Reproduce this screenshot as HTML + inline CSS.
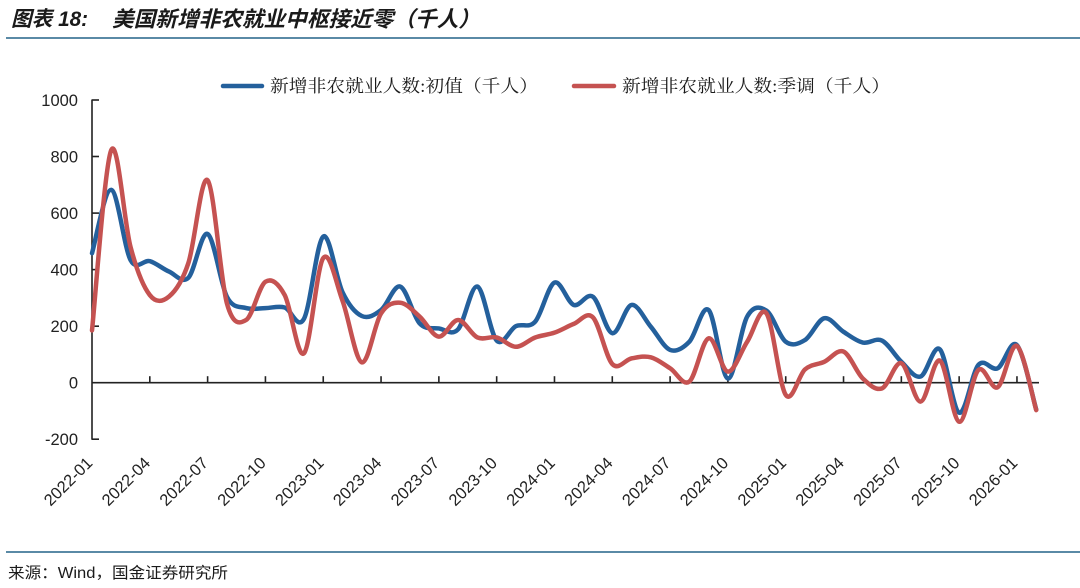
<!DOCTYPE html>
<html>
<head>
<meta charset="utf-8">
<style>
  html,body{margin:0;padding:0;background:#fff;}
  svg{display:block;}
  .cjk{font-family:"Liberation Sans","Noto Sans CJK SC",sans-serif;}
  .serif{font-family:"Liberation Serif","Noto Serif CJK SC",serif;}
  .num{font-family:"Liberation Sans","Noto Sans CJK SC",sans-serif;fill:#222;}
</style>
</head>
<body>
<svg id="chart" width="1080" height="588" viewBox="0 0 1080 588" xmlns="http://www.w3.org/2000/svg">
  <rect width="1080" height="588" fill="#fff"/>
  <!-- Title -->
  <text x="11" y="26" class="cjk" font-size="21" font-weight="bold" font-style="italic" fill="#1a1a1a" textLength="77" lengthAdjust="spacingAndGlyphs">图表 18:</text>
  <text x="112" y="26.5" class="cjk" font-size="21.5" font-weight="bold" font-style="italic" fill="#1a1a1a" textLength="368" lengthAdjust="spacingAndGlyphs">美国新增非农就业中枢接近零（千人）</text>
  <rect x="6" y="37" width="1074" height="2" fill="#5a8aa6"/>

  <!-- Legend -->
  <line x1="223" y1="86" x2="262" y2="86" stroke="#24609c" stroke-width="4.5" stroke-linecap="round"/>
  <text x="270" y="92" class="serif" font-size="17.5" fill="#1a1a1a" textLength="268" lengthAdjust="spacingAndGlyphs">新增非农就业人数:初值（千人）</text>
  <line x1="574" y1="86" x2="614" y2="86" stroke="#c55251" stroke-width="4.5" stroke-linecap="round"/>
  <text x="622" y="92" class="serif" font-size="17.5" fill="#1a1a1a" textLength="268" lengthAdjust="spacingAndGlyphs">新增非农就业人数:季调（千人）</text>

  <!-- Y axis -->
  <g stroke="#222" stroke-width="1.6" fill="none">
    <line x1="92" y1="99.5" x2="92" y2="439.8"/>
    <line x1="92" y1="100" x2="99" y2="100"/>
    <line x1="92" y1="156.5" x2="99" y2="156.5"/>
    <line x1="92" y1="213.1" x2="99" y2="213.1"/>
    <line x1="92" y1="269.6" x2="99" y2="269.6"/>
    <line x1="92" y1="326.2" x2="99" y2="326.2"/>
    <line x1="92" y1="439.2" x2="99" y2="439.2"/>
    <line x1="92" y1="382.7" x2="1039" y2="382.7"/>
  </g>
  <g class="num" font-size="16.5" text-anchor="end">
    <text x="78" y="106">1000</text>
    <text x="78" y="162.5">800</text>
    <text x="78" y="219">600</text>
    <text x="78" y="275.6">400</text>
    <text x="78" y="332.2">200</text>
    <text x="78" y="388.7">0</text>
    <text x="78" y="445.2">-200</text>
  </g>
  <g id="xticks" stroke="#222" stroke-width="1.6"></g>
  <g id="xlabels" class="num" font-size="16.5" text-anchor="end"></g>

  <!-- Series -->
  <g id="series" fill="none" stroke-width="4.5" stroke-linejoin="round" stroke-linecap="round"></g>

  <!-- Fallback polylines (removed by script) -->
  <g id="fb" transform="translate(92,382.7) scale(19.27,-0.2827)" fill="none">
    <polyline vector-effect="non-scaling-stroke" stroke="#24609c" stroke-width="4.5" points="0,458 1,682 2,434 3,430 4,393 5,371 6,526 7,304 8,264 9,264 10,266 11,226 12,517 13,320 14,236 15,257 16,340 17,210 18,192 19,189 20,340 21,149 22,200 23,216 24,354 25,275 26,304 27,175 28,275 29,198 30,116 31,145 32,257 33,15 34,234 35,255 36,145 37,151 38,228 39,180 40,142 41,149 42,74 43,22 44,118 45,-106 46,63 47,51 48,133 49,-95"/>
    <polyline vector-effect="non-scaling-stroke" stroke="#c55251" stroke-width="4.5" points="0,185 1,823 2,480 3,310 4,305 5,423 6,716 7,281 8,222 9,357 10,310 11,104 12,441 13,290 14,72 15,245 16,283 17,234 18,163 19,222 20,160 21,160 22,127 23,160 24,177 25,208 26,231 27,66 28,86 29,90 30,51 31,4 32,157 33,39 34,145 35,245 36,-43 37,47 38,74 39,110 40,15 41,-20 42,69 43,-67 44,78 45,-138 46,45 47,-16 48,130 49,-97"/>
  </g>

  <rect x="6" y="551" width="1074" height="2" fill="#5a8aa6"/>
  <text x="8" y="578" class="cjk" font-size="15.5" fill="#1a1a1a" textLength="220" lengthAdjust="spacingAndGlyphs">来源：Wind，国金证券研究所</text>
</svg>
<script>
(function(){
  var NS="http://www.w3.org/2000/svg";
  var X0=92, DX=19.27, Y0=382.7, K=0.2827;
  var blue=[458,682,434,430,393,371,526,304,264,264,266,226,517,320,236,257,340,210,192,189,340,149,200,216,354,275,304,175,275,198,116,145,257,15,234,255,145,151,228,180,142,149,74,22,118,-106,63,51,133,-95];
  var red=[185,823,480,310,305,423,716,281,222,357,310,104,441,290,72,245,283,234,163,222,160,160,127,160,177,208,231,66,86,90,51,4,157,39,145,245,-43,47,74,110,15,-20,69,-67,78,-138,45,-16,130,-97];
  function pts(v){return v.map(function(y,i){return [X0+DX*i, Y0-K*y];});}
  function smooth(p){
    var d="M"+p[0][0].toFixed(2)+","+p[0][1].toFixed(2);
    for(var i=0;i<p.length-1;i++){
      var p0=p[i-1]||p[i], p1=p[i], p2=p[i+1], p3=p[i+2]||p[i+1];
      var c1x=p1[0]+(p2[0]-p0[0])/6, c1y=p1[1]+(p2[1]-p0[1])/6;
      var c2x=p2[0]-(p3[0]-p1[0])/6, c2y=p2[1]-(p3[1]-p1[1])/6;
      d+=" C"+c1x.toFixed(2)+","+c1y.toFixed(2)+" "+c2x.toFixed(2)+","+c2y.toFixed(2)+" "+p2[0].toFixed(2)+","+p2[1].toFixed(2);
    }
    return d;
  }
  var g=document.getElementById("series");
  [[blue,"#24609c"],[red,"#c55251"]].forEach(function(s){
    var path=document.createElementNS(NS,"path");
    path.setAttribute("d",smooth(pts(s[0])));
    path.setAttribute("stroke",s[1]);
    g.appendChild(path);
  });
  var fb=document.getElementById("fb"); fb.parentNode.removeChild(fb);
  var tk=document.getElementById("xticks"), lb=document.getElementById("xlabels");
  var names=["2022-01","2022-04","2022-07","2022-10","2023-01","2023-04","2023-07","2023-10","2024-01","2024-04","2024-07","2024-10","2025-01","2025-04","2025-07","2025-10","2026-01"];
  for(var j=0;j<names.length;j++){
    var i=j*3, x=X0+DX*i;
    if(i>0){
      var l=document.createElementNS(NS,"line");
      l.setAttribute("x1",x);l.setAttribute("x2",x);
      l.setAttribute("y1",Y0);l.setAttribute("y2",Y0-6.5);
      tk.appendChild(l);
    }
    var t=document.createElementNS(NS,"text");
    var px=x+1.5, py=464;
    t.setAttribute("x",px);t.setAttribute("y",py);
    t.setAttribute("transform","rotate(-45 "+px+" "+py+")");
    t.textContent=names[j];
    lb.appendChild(t);
  }
})();
</script>
</body>
</html>
